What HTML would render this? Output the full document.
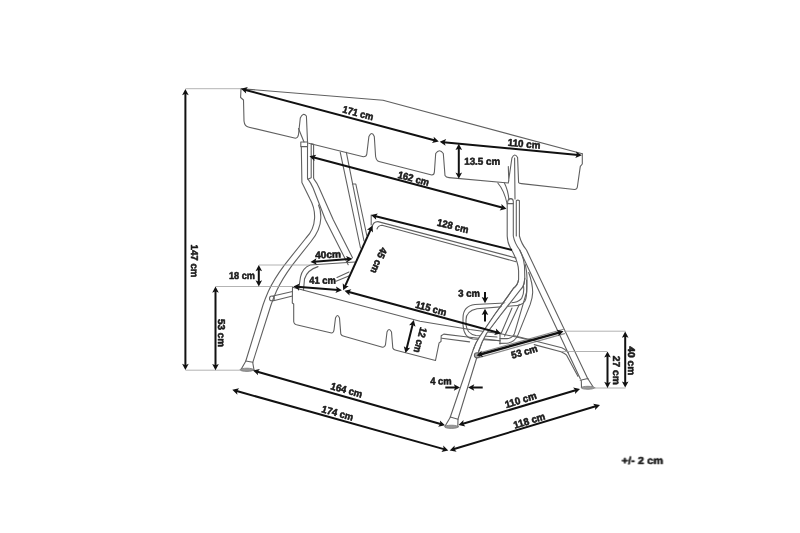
<!DOCTYPE html>
<html><head><meta charset="utf-8"><style>
html,body{margin:0;padding:0;background:#fff;width:800px;height:533px;overflow:hidden}
svg{display:block}
text{font-family:"Liberation Sans",sans-serif;font-weight:bold;text-rendering:geometricPrecision;font-size:10.0px;fill:#1a1a1a;stroke:#1a1a1a;stroke-width:0.55px;stroke-linejoin:round;text-anchor:middle}
</style></head><body>
<svg width="800" height="533" viewBox="0 0 800 533">
<g fill="none" stroke="#606060" stroke-width="1.1" stroke-linejoin="round" stroke-linecap="round">
<!-- canopy back edge -->
<path d="M241,88.7 L383,100.3 L582.3,153.8"/>
<!-- canopy front face -->
<path d="M241,88.7 L240.6,97.5 L243.5,100 L244,121 Q244.5,126.5 249,127.2 L295.5,138.3 Q298,138 298.5,134.5 L300.3,118 Q303,112 306.4,116 L307.6,143.3"/>
<path d="M298.5,128.5 L304,142"/>
<path d="M308.7,143.3 L363.3,156.8 Q366.5,156.8 366.8,154 L368.9,136.5 Q371.8,130.5 374.3,136.5 L375.6,156.5 Q376.5,161 379,161.5 L431.8,175 Q434.2,175 434.4,172 L435.7,153.5 Q439.5,148 443.3,153.5 L445,175.5 Q446,177.5 449,177.6 L508.3,183 M508.3,166.5 L508.8,181 M508.3,183 L511.9,158 Q514.6,152.3 517.6,157.5 L518.6,182.5 Q519,183.6 521.5,183.6 L574.5,189.5 Q577.3,189.5 577.5,186 L580.3,166.3 L582.3,164 L582.3,153.8"/>
<!-- left post -->
<path d="M300.8,142 L307.6,142 L307.6,146.6 L300.8,146.6 Z"/>
<path d="M311.2,143.9 L311.2,177.8 L307.8,179.3 M311.2,143.9 L313.6,144.4 L313.6,177.8"/>
<path d="M313.6,177.8 L314,179.2 Q317,183 319.2,188 L333.4,220 L352.5,257.7"/>
<path d="M307.5,146.6 L307.5,178.3 Q311,183 313.1,188 L325.5,220 L348.2,264.8"/>
<!-- left front leg -->
<path d="M301.3,146.6 L301.9,182.5 L310,199 Q315,208 314.6,218 Q314,230 306,238 L284.2,265.3 Q274,279 268.5,291 Q265,299 263,305 L245.8,361"/>
<path d="M318.5,205 Q321,210 320.8,218 Q320.5,230 311,241.5 L292.1,265.3 Q282,279 276.5,291 Q273,299 271,305 L252.8,362.3"/>
<path d="M245.8,361 L252.8,362.3"/>
<path d="M241,369.5 L245.6,361.5 M252.8,362.8 L254,370"/>
<ellipse cx="247" cy="369.8" rx="7" ry="1.6" fill="#999" stroke="#777" stroke-width="0.8"/>
<!-- rods from canopy back to seat back -->
<path d="M340.2,152.2 L360.5,248"/>
<path d="M346.3,152.2 L364,241"/>
<path d="M352.4,184 L355.8,184 L366.8,235.5"/>
<!-- left armrest -->
<path d="M355,262 L310,265 Q302.5,268 300.5,277 L298.5,290"/>
<path d="M318,266.6 Q307,270 304.5,279 L303.5,290"/>
<path d="M336,281.2 L350,275.5 M337,277.5 L349,272"/>
<!-- bolt + bar -->
<circle cx="271.9" cy="298.4" r="2.4"/>
<path d="M273,296 L292.5,291.5 M273.5,300.7 L292.5,296"/>
<!-- seat back -->
<path d="M371.2,215 L371.2,225"/>
<path d="M372,227.5 Q373,221.5 378,221.6 L516,258"/>
<path d="M377,229 Q378,225.5 382,225.2 L516,261.7"/>
<!-- seat front flap -->
<path d="M292.5,287.2 L420,321.2 L470,329.5 L502,334 L530,340"/>
<path d="M441.7,338.2 L469.6,341.9"/>
<path d="M292.5,287.2 L292.3,303 L293.7,304 L293.7,321.5 Q294,324.5 297.5,325 L331.5,333 Q333.5,333 334,330 L335.5,318 Q337.5,313 339.5,318 L340.8,334 Q341.5,336 344,336.3 L382.5,347.2 Q385,347.2 385.5,344.5 L387,332 Q389,327 391.5,332 L392.8,348 Q393.5,350 396,350.3 L435.5,360.5 L439.1,342.9 L441,341.5 L441.2,335.7 L443.8,334.1 L465.5,336.7 L500,340.8"/>
<!-- right post -->
<path d="M514.6,158 L515,199"/>
<path d="M507.6,203.5 L507.8,201 Q508.5,198.6 510.8,198.6 Q513.3,198.8 513.3,201.5 L513.3,203.5 M507.2,203.6 L513.3,203.6"/>
<path d="M516.3,236 L516.3,200.6 Q517.8,199.6 519.4,200.6 L519.4,236"/>
<!-- rear rod curve to post top -->
<path d="M497.8,183 Q504,190 507.2,204"/>
<path d="M504.4,183 Q508,190 509,200"/>
<!-- post + front right leg outer -->
<path d="M507.2,204 L507.2,236 Q507.5,243 510.5,248 Q518.6,262 518.6,271 L518.6,279.3 Q518,285 513.5,288.3 L494.4,315 L479.5,337 Q475.5,343 473.3,349.5 L450.3,417"/>
<!-- front right leg inner -->
<path d="M513.3,203.6 L513.3,236 Q514.5,243 519.7,250 Q524.2,259 524.5,266 L524.8,278.2 Q524.5,284 522.5,287.2 L500.5,315 L486.5,333.5 Q481.5,342 478.8,351 L458,419"/>
<!-- rear right leg -->
<path d="M519.7,250 L580.4,379"/>
<path d="M519.4,236 Q521.5,244 526.5,250 L587.9,379"/>
<!-- rear loop lines -->
<path d="M525.3,264.6 Q527,272 527,278.2 L526.6,292.2 L514.4,333.7 Q512,338.5 507,338.6 L500,338.6"/>
<path d="M528.7,272.5 Q532.5,283 532.7,292.2 Q532.5,298 530.2,304.4 L518,334.9 Q515,342 507,343.2 L499.8,343.4"/>
<path d="M519.3,304.4 L504.6,336.1"/>
<path d="M512,308 L501,333.7"/>
<!-- right armrest loop -->
<path d="M523.5,286.1 Q524.5,293 521.7,298.3 Q518,302.6 510,302.8 L475,304.5 Q463,306 463,318 L463,325 Q464,338 473,339 L500,340.8"/>
<path d="M526.6,280 Q527.5,296 525,301 Q522,305.6 514,305.8 L477,308.8 Q466,311 466,320 L466,325 Q467,334 476,335.5 L497,337"/>
<path d="M500,332.5 L500,344"/>
<!-- front right leg occluder -->
<path stroke="#fff" stroke-width="4.6" stroke-linecap="butt" d="M521.2,283 Q520,289 517.5,292 L497.5,315 L483,335.5 Q479,342 476.5,349"/>
<path d="M518.6,279.3 Q518,285 513.5,288.3 L494.4,315 L479.5,337 Q475.5,343 473.3,349.5"/>
<path d="M524.8,278.2 Q524.5,284 522.5,287.2 L500.5,315 L486.5,333.5 Q481.5,342 478.8,351"/>
<!-- right feet -->
<path d="M450.3,417 L458,419.2"/>
<path d="M445,426.3 L450.3,417.3 M458,419.5 L457.8,426.5"/>
<ellipse cx="451.5" cy="426.8" rx="7" ry="1.6" fill="#999" stroke="#777" stroke-width="0.8"/>
<path d="M580.3,380.3 L587.9,378.5"/>
<path d="M581.5,387.5 L581.3,380.5 M587.9,378.8 L593,386.8"/>
<ellipse cx="588" cy="387.8" rx="6.8" ry="1.5" fill="#999" stroke="#777" stroke-width="0.8"/>
<!-- crossbar tube -->
<path stroke="#8a8a8a" d="M478,353.2 L563.5,329.3 M478.8,357.6 L564.5,333.6"/>
<circle cx="477" cy="355.3" r="2.6" fill="#aaa"/>
<!-- seat bottom frame -->
<path d="M514.5,335.8 L561.8,347.8 Q566,349.5 568.5,353"/>
<path d="M534.2,344.6 L561,351.7 Q565,353.5 566.6,355.2 L577.9,376.3"/>

</g>
<g stroke="#a0a0a0" stroke-width="0.8">
<line x1="185.5" y1="88.7" x2="241" y2="88.7"/>
<line x1="185.5" y1="370.2" x2="240" y2="370.2"/>
<line x1="215.5" y1="286.5" x2="293" y2="286.5"/>
<line x1="259" y1="265" x2="309" y2="265"/>
<line x1="564" y1="331.2" x2="625.5" y2="331.2"/>
<line x1="562" y1="351.5" x2="607" y2="351.5"/>
<line x1="592" y1="388" x2="625.5" y2="388"/>
</g>
<g stroke="#111" fill="#111">
<line x1="185.40" y1="92.72" x2="185.40" y2="366.28" stroke-width="2.0" stroke-linecap="butt"/>
<path stroke="none" d="M185.40,89.00L188.70,95.20L185.40,93.84L182.10,95.20Z"/>
<path stroke="none" d="M185.40,370.00L182.10,363.80L185.40,365.16L188.70,363.80Z"/>
<line x1="215.50" y1="290.22" x2="215.50" y2="366.48" stroke-width="2.0" stroke-linecap="butt"/>
<path stroke="none" d="M215.50,286.50L218.80,292.70L215.50,291.34L212.20,292.70Z"/>
<path stroke="none" d="M215.50,370.20L212.20,364.00L215.50,365.36L218.80,364.00Z"/>
<line x1="258.80" y1="268.72" x2="258.80" y2="282.78" stroke-width="2.0" stroke-linecap="butt"/>
<path stroke="none" d="M258.80,265.00L262.10,271.20L258.80,269.84L255.50,271.20Z"/>
<path stroke="none" d="M258.80,286.50L255.50,280.30L258.80,281.66L262.10,280.30Z"/>
<line x1="244.59" y1="89.66" x2="435.21" y2="140.54" stroke-width="2.0" stroke-linecap="butt"/>
<path stroke="none" d="M241.00,88.70L247.84,87.11L245.67,89.95L246.14,93.49Z"/>
<path stroke="none" d="M438.80,141.50L431.96,143.09L434.13,140.25L433.66,136.71Z"/>
<line x1="443.40" y1="142.15" x2="578.10" y2="154.95" stroke-width="2.0" stroke-linecap="butt"/>
<path stroke="none" d="M439.70,141.80L446.18,139.10L444.51,142.26L445.56,145.67Z"/>
<path stroke="none" d="M581.80,155.30L575.32,158.00L576.99,154.84L575.94,151.43Z"/>
<line x1="458.80" y1="147.52" x2="458.80" y2="175.08" stroke-width="2.0" stroke-linecap="butt"/>
<path stroke="none" d="M458.80,143.80L462.10,150.00L458.80,148.64L455.50,150.00Z"/>
<path stroke="none" d="M458.80,178.80L455.50,172.60L458.80,173.96L462.10,172.60Z"/>
<line x1="312.99" y1="157.26" x2="502.91" y2="207.84" stroke-width="2.0" stroke-linecap="butt"/>
<path stroke="none" d="M309.40,156.30L316.24,154.71L314.07,157.54L314.54,161.08Z"/>
<path stroke="none" d="M506.50,208.80L499.66,210.39L501.83,207.56L501.36,204.02Z"/>
<line x1="314.21" y1="261.72" x2="348.79" y2="259.08" stroke-width="2.0" stroke-linecap="butt"/>
<path stroke="none" d="M310.50,262.00L316.43,258.24L315.32,261.63L316.93,264.82Z"/>
<path stroke="none" d="M352.50,258.80L346.57,262.56L347.68,259.17L346.07,255.98Z"/>
<line x1="297.01" y1="286.70" x2="338.19" y2="290.00" stroke-width="2.0" stroke-linecap="butt"/>
<path stroke="none" d="M293.30,286.40L299.74,283.61L298.12,286.79L299.22,290.19Z"/>
<path stroke="none" d="M341.90,290.30L335.46,293.09L337.08,289.91L335.98,286.51Z"/>
<line x1="370.97" y1="228.89" x2="344.73" y2="286.91" stroke-width="2.0" stroke-linecap="butt"/>
<path stroke="none" d="M372.50,225.50L372.95,232.51L370.51,229.91L366.94,229.79Z"/>
<path stroke="none" d="M343.20,290.30L342.75,283.29L345.19,285.89L348.76,286.01Z"/>
<line x1="348.09" y1="291.78" x2="497.41" y2="332.42" stroke-width="2.0" stroke-linecap="butt"/>
<path stroke="none" d="M344.50,290.80L351.35,289.24L349.17,292.07L349.62,295.61Z"/>
<path stroke="none" d="M501.00,333.40L494.15,334.96L496.33,332.13L495.88,328.59Z"/>
<line x1="412.89" y1="323.61" x2="406.41" y2="349.39" stroke-width="2.0" stroke-linecap="butt"/>
<path stroke="none" d="M413.80,320.00L415.49,326.82L412.62,324.69L409.09,325.21Z"/>
<path stroke="none" d="M405.50,353.00L403.81,346.18L406.68,348.31L410.21,347.79Z"/>
<line x1="625.20" y1="335.32" x2="625.20" y2="383.88" stroke-width="2.0" stroke-linecap="butt"/>
<path stroke="none" d="M625.20,331.60L628.50,337.80L625.20,336.44L621.90,337.80Z"/>
<path stroke="none" d="M625.20,387.60L621.90,381.40L625.20,382.76L628.50,381.40Z"/>
<line x1="607.50" y1="355.12" x2="607.50" y2="384.28" stroke-width="2.0" stroke-linecap="butt"/>
<path stroke="none" d="M607.50,351.40L610.80,357.60L607.50,356.24L604.20,357.60Z"/>
<path stroke="none" d="M607.50,388.00L604.20,381.80L607.50,383.16L610.80,381.80Z"/>
<line x1="256.58" y1="371.42" x2="441.42" y2="424.28" stroke-width="2.0" stroke-linecap="butt"/>
<path stroke="none" d="M253.00,370.40L259.87,368.93L257.65,371.73L258.05,375.28Z"/>
<path stroke="none" d="M445.00,425.30L438.13,426.77L440.35,423.97L439.95,420.42Z"/>
<line x1="235.88" y1="390.80" x2="444.72" y2="449.40" stroke-width="2.0" stroke-linecap="butt"/>
<path stroke="none" d="M232.30,389.80L239.16,388.30L236.96,391.11L237.38,394.65Z"/>
<path stroke="none" d="M448.30,450.40L441.44,451.90L443.64,449.09L443.22,445.55Z"/>
<line x1="462.07" y1="423.94" x2="576.43" y2="390.06" stroke-width="2.0" stroke-linecap="butt"/>
<path stroke="none" d="M458.50,425.00L463.51,420.07L463.14,423.63L465.38,426.40Z"/>
<path stroke="none" d="M580.00,389.00L574.99,393.93L575.36,390.37L573.12,387.60Z"/>
<line x1="453.26" y1="449.32" x2="596.44" y2="406.08" stroke-width="2.0" stroke-linecap="butt"/>
<path stroke="none" d="M449.70,450.40L454.68,445.45L454.33,449.00L456.59,451.77Z"/>
<path stroke="none" d="M600.00,405.00L595.02,409.95L595.37,406.40L593.11,403.63Z"/>
<line x1="480.08" y1="354.50" x2="559.92" y2="332.30" stroke-width="2.4" stroke-linecap="butt"/>
<path stroke="none" d="M476.50,355.50L481.59,350.66L481.16,354.20L483.36,357.02Z"/>
<path stroke="none" d="M563.50,331.30L558.41,336.14L558.84,332.60L556.64,329.78Z"/>
<line x1="512.00" y1="250.00" x2="374.61" y2="215.99" stroke-width="2.0" stroke-linecap="butt"/>
<path stroke="none" d="M371.00,215.10L377.81,213.39L375.69,216.26L376.23,219.79Z"/>
<line x1="485.00" y1="292.00" x2="485.00" y2="299.48" stroke-width="2.0" stroke-linecap="butt"/>
<path stroke="none" d="M485.00,303.20L481.70,297.00L485.00,298.36L488.30,297.00Z"/>
<line x1="485.00" y1="321.50" x2="485.00" y2="312.52" stroke-width="2.0" stroke-linecap="butt"/>
<path stroke="none" d="M485.00,308.80L488.30,315.00L485.00,313.64L481.70,315.00Z"/>
<line x1="445.30" y1="387.50" x2="456.28" y2="387.50" stroke-width="2.0" stroke-linecap="butt"/>
<path stroke="none" d="M460.00,387.50L453.80,390.80L455.16,387.50L453.80,384.20Z"/>
<line x1="482.70" y1="387.50" x2="471.82" y2="387.50" stroke-width="2.0" stroke-linecap="butt"/>
<path stroke="none" d="M468.10,387.50L474.30,384.20L472.94,387.50L474.30,390.80Z"/>
</g>
<g style="will-change:transform" opacity="0.999">
<text transform="translate(358.1,113.0) rotate(15.0)" x="0" y="3.5" textLength="31.5" lengthAdjust="spacingAndGlyphs">171 cm</text>
<text transform="translate(524.1,143.8) rotate(5.0)" x="0" y="3.5" textLength="32.7" lengthAdjust="spacingAndGlyphs">110 cm</text>
<text transform="translate(482.2,161.3) rotate(0.04)" x="0" y="3.5" textLength="36" lengthAdjust="spacingAndGlyphs">13.5 cm</text>
<text transform="translate(413.6,178.4) rotate(15.0)" x="0" y="3.5" textLength="32" lengthAdjust="spacingAndGlyphs">162 cm</text>
<text transform="translate(452.9,226.0) rotate(14.0)" x="0" y="3.5" textLength="32" lengthAdjust="spacingAndGlyphs">128 cm</text>
<text transform="translate(378.9,260.6) rotate(114.0)" x="0" y="3.5" textLength="27" lengthAdjust="spacingAndGlyphs">45 cm</text>
<text transform="translate(328.0,254.5) rotate(-2.0)" x="0" y="3.5" textLength="26" lengthAdjust="spacingAndGlyphs">40cm</text>
<text transform="translate(242.0,275.5) rotate(0.04)" x="0" y="3.5" textLength="26" lengthAdjust="spacingAndGlyphs">18 cm</text>
<text transform="translate(322.5,280.3) rotate(0.04)" x="0" y="3.5" textLength="26.5" lengthAdjust="spacingAndGlyphs">41 cm</text>
<text transform="translate(194.5,261.0) rotate(90.0)" x="0" y="3.5" textLength="33" lengthAdjust="spacingAndGlyphs">147 cm</text>
<text transform="translate(221.5,333.0) rotate(90.0)" x="0" y="3.5" textLength="28" lengthAdjust="spacingAndGlyphs">53 cm</text>
<text transform="translate(469.1,293.2) rotate(0.04)" x="0" y="3.5" textLength="21.5" lengthAdjust="spacingAndGlyphs">3 cm</text>
<text transform="translate(431.0,308.3) rotate(15.5)" x="0" y="3.5" textLength="32" lengthAdjust="spacingAndGlyphs">115 cm</text>
<text transform="translate(420.4,340.1) rotate(106.0)" x="0" y="3.5" textLength="26" lengthAdjust="spacingAndGlyphs">12 cm</text>
<text transform="translate(524.3,351.7) rotate(-16.0)" x="0" y="3.5" textLength="27" lengthAdjust="spacingAndGlyphs">53 cm</text>
<text transform="translate(631.8,360.8) rotate(90.0)" x="0" y="3.5" textLength="29" lengthAdjust="spacingAndGlyphs">40 cm</text>
<text transform="translate(616.2,370.3) rotate(90.0)" x="0" y="3.5" textLength="29" lengthAdjust="spacingAndGlyphs">27 cm</text>
<text transform="translate(440.9,380.9) rotate(0.04)" x="0" y="3.5" textLength="21.5" lengthAdjust="spacingAndGlyphs">4 cm</text>
<text transform="translate(346.6,390.0) rotate(15.8)" x="0" y="3.5" textLength="32.5" lengthAdjust="spacingAndGlyphs">164 cm</text>
<text transform="translate(337.6,413.0) rotate(15.7)" x="0" y="3.5" textLength="32.5" lengthAdjust="spacingAndGlyphs">174 cm</text>
<text transform="translate(520.6,400.0) rotate(-17.3)" x="0" y="3.5" textLength="32.5" lengthAdjust="spacingAndGlyphs">110 cm</text>
<text transform="translate(529.3,420.6) rotate(-17.3)" x="0" y="3.5" textLength="32.5" lengthAdjust="spacingAndGlyphs">118 cm</text>
<text transform="translate(642.4,459.9) rotate(0.04)" x="0" y="3.5" textLength="41.5" lengthAdjust="spacingAndGlyphs">+/- 2 cm</text>
</g>
</svg>
</body></html>
